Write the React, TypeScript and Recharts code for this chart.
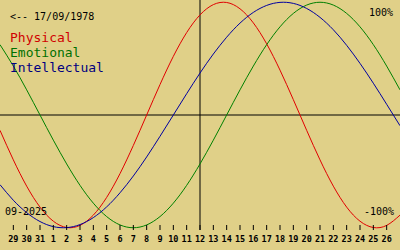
import { LineChart, Line, XAxis, YAxis, ReferenceLine } from "recharts";

// days shown on the axis, 28 Aug .. 27 Sep (first/last sit on the edges, no tick)
const days = [28, 29, 30, 31, 1, 2, 3, 4, 5, 6, 7, 8, 9, 10, 11, 12, 13, 14, 15, 16, 17, 18, 19, 20, 21, 22, 23, 24, 25, 26, 27];

const physical = [-0.136, -0.398, -0.631, -0.817, -0.942, -0.998, -0.979, -0.888, -0.731, -0.52, -0.27, 0, 0.27, 0.52, 0.731, 0.888, 0.979, 0.998, 0.942, 0.817, 0.631, 0.398, 0.136, -0.136, -0.398, -0.631, -0.817, -0.942, -0.998, -0.979, -0.888];
const emotional = [0.624, 0.434, 0.223, 0, -0.223, -0.434, -0.624, -0.782, -0.901, -0.975, -1, -0.975, -0.901, -0.782, -0.624, -0.434, -0.223, 0, 0.223, 0.434, 0.624, 0.782, 0.901, 0.975, 1, 0.975, 0.901, 0.782, 0.624, 0.434, 0.223];
const intellectual = [-0.618, -0.756, -0.866, -0.945, -0.99, -0.999, -0.972, -0.91, -0.815, -0.69, -0.541, -0.372, -0.189, 0, 0.189, 0.372, 0.541, 0.69, 0.815, 0.91, 0.972, 0.999, 0.99, 0.945, 0.866, 0.756, 0.618, 0.458, 0.282, 0.095, -0.095];

const tickIdx = days.map((_, i) => i).slice(1, -1);
const todayIdx = 15;

const data = days.map((d, i) => ({
  i,
  day: d,
  physical: physical[i],
  emotional: emotional[i],
  intellectual: intellectual[i],
}));

const mono = '"DejaVu Sans Mono", monospace';

function DayTick(props: any) {
  const { x, y, payload } = props;
  return (
    <g>
      <line x1={x} x2={x} y1={y - 5} y2={y} stroke="#000" strokeWidth={1} />
      <text x={x} y={y + 11.7} textAnchor="middle" fontFamily={mono} fontSize={8.5} fontWeight="bold" fill="#000">
        {days[payload.value]}
      </text>
    </g>
  );
}

const label = (top: number, extra: any) => ({
  position: "absolute" as const,
  top,
  fontFamily: mono,
  lineHeight: 1,
  whiteSpace: "nowrap" as const,
  ...extra,
});

export default function App() {
  return (
    <div style={{ position: "fixed", left: 0, top: 0, width: 400, height: 250, background: "#e0d088" }}>
      <LineChart width={400} height={250} data={data} margin={{ top: 0, right: 0, left: 0, bottom: 0 }}>
        <XAxis
          dataKey="i"
          type="number"
          domain={[0, 30]}
          ticks={tickIdx}
          interval={0}
          axisLine={false}
          tickLine={false}
          tickSize={0}
          tickMargin={0}
          height={20}
          tick={<DayTick />}
        />
        <YAxis hide domain={[-1.02, 1.02]} allowDataOverflow />
        <ReferenceLine y={0} stroke="#000" strokeWidth={1} />
        <ReferenceLine x={todayIdx} stroke="#000" strokeWidth={1} />
        <Line type="natural" dataKey="physical" stroke="#e00000" strokeWidth={1} dot={false} activeDot={false} isAnimationActive={false} />
        <Line type="natural" dataKey="emotional" stroke="#008000" strokeWidth={1} dot={false} activeDot={false} isAnimationActive={false} />
        <Line type="natural" dataKey="intellectual" stroke="#0000a0" strokeWidth={1} dot={false} activeDot={false} isAnimationActive={false} />
      </LineChart>
      <div style={label(12, { left: 10, fontSize: 10, color: "#000" })}>{"<-- 17/09/1978"}</div>
      <div style={label(31, { left: 10, fontSize: 13, color: "#d00000" })}>Physical</div>
      <div style={label(46, { left: 10, fontSize: 13, color: "#007000" })}>Emotional</div>
      <div style={label(61, { left: 10, fontSize: 13, color: "#000080" })}>Intellectual</div>
      <div style={label(8, { right: 7, fontSize: 10, color: "#000" })}>100%</div>
      <div style={label(207, { left: 5, fontSize: 10, color: "#000" })}>09-2025</div>
      <div style={label(207, { right: 6, fontSize: 10, color: "#000" })}>-100%</div>
    </div>
  );
}
